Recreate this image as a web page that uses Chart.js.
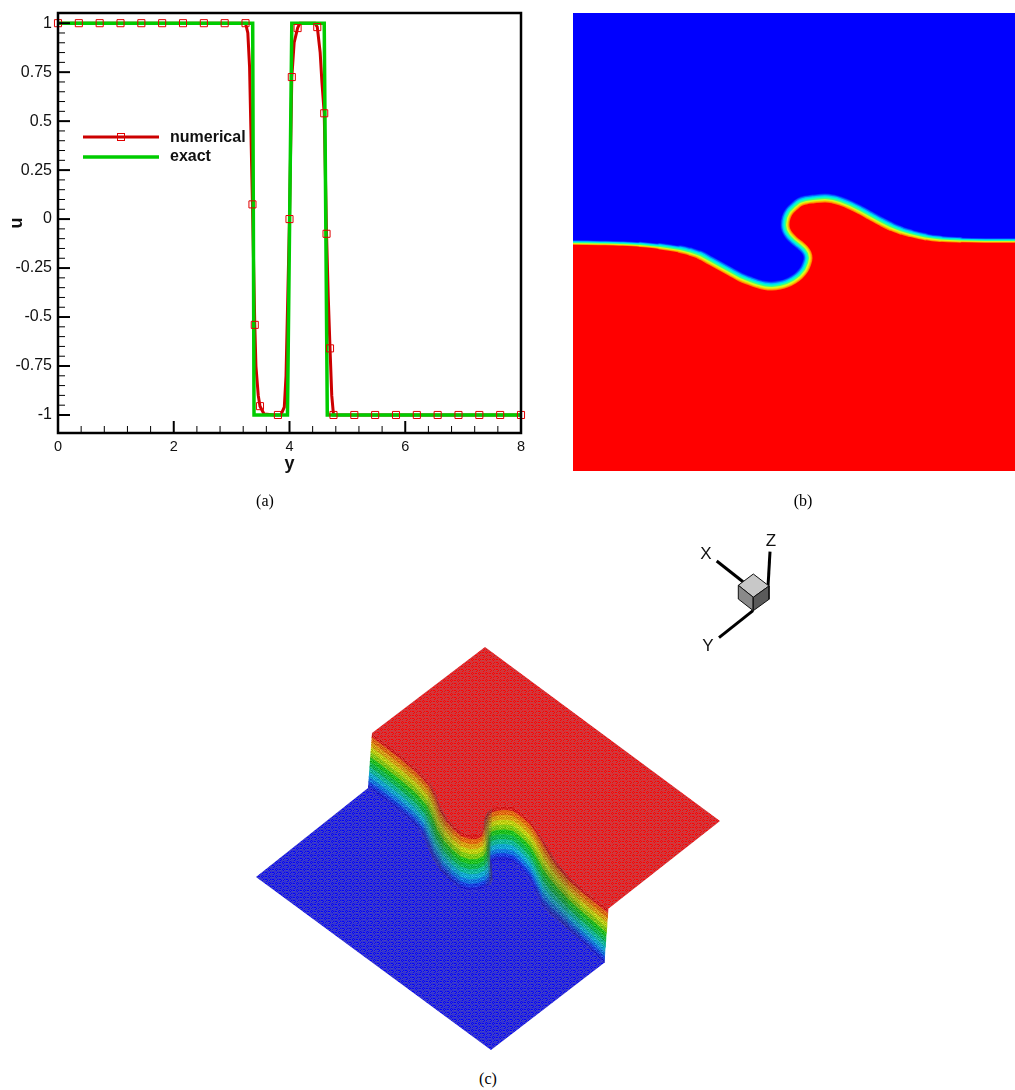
<!DOCTYPE html>
<html><head><meta charset="utf-8">
<style>
html,body{margin:0;padding:0;background:#fff;width:1015px;height:1090px;overflow:hidden}
canvas{position:absolute;display:block}
.t{position:absolute;color:#000;white-space:nowrap;transform:translate(-50%,-50%);line-height:1}
.cap{font:16px "Liberation Serif",serif}
.ax{font:17px "Liberation Sans",sans-serif;color:#111}
</style>
<script src="https://cdn.jsdelivr.net/npm/chart.js@4"></script>
</head><body>
<canvas id="a" width="540" height="480" style="left:0;top:0;width:540px;height:480px"></canvas>
<canvas id="b" width="442" height="458" style="left:573px;top:13px;width:442px;height:458px"></canvas>
<canvas id="c" width="1015" height="560" style="left:0;top:500px;width:1015px;height:560px"></canvas>
<div class="t cap" style="left:265px;top:501px">(a)</div>
<div class="t cap" style="left:803px;top:501px">(b)</div>
<div class="t cap" style="left:488px;top:1079px">(c)</div>
<div class="t ax" style="left:706px;top:554px">X</div>
<div class="t ax" style="left:771px;top:541px">Z</div>
<div class="t ax" style="left:708px;top:646px">Y</div>
<script>
// ---- panel (a) data
const yTicksMajor=[-1,-0.75,-0.5,-0.25,0,0.25,0.5,0.75,1];
const xTicksMajor=[0,2,4,6,8];
const numericalY=[0,1,2,3,3.2,3.24,3.28,3.31,3.36,3.40,3.42,3.46,3.49,3.56,3.75,3.85,3.91,3.94,4.0,4.04,4.08,4.14,4.18,4.44,4.48,4.53,4.56,4.60,4.64,4.67,4.70,4.73,4.76,5,6,7,8];
const numericalU=[1,1,1,1,1,1,0.95,0.777,0.075,-0.54,-0.75,-0.9,-0.955,-0.995,-1,-1,-0.96,-0.8,0,0.725,0.9,0.975,1,1,0.98,0.85,0.7,0.54,-0.075,-0.4,-0.66,-0.9,-1,-1,-1,-1,-1];
const markerY=[0,0.36,0.72,1.08,1.44,1.8,2.16,2.52,2.88,3.24,3.36,3.40,3.49,3.8,4.0,4.04,4.14,4.48,4.60,4.64,4.70,4.76,5.12,5.48,5.84,6.2,6.56,6.92,7.28,7.64,8];
const markerU=[1,1,1,1,1,1,1,1,1,1,0.075,-0.54,-0.955,-1,0,0.725,0.975,0.98,0.54,-0.075,-0.66,-1,-1,-1,-1,-1,-1,-1,-1,-1,-1];
const exactY=[0,3.364,3.387,3.965,4.04,4.60,4.653,8];
const exactU=[1,1,-1,-1,1,1,-1,-1];
const seriesNames=["numerical","exact"];
// ---- panel (b) data: interface contour, in picture coordinates
const ifaceX=[573,600,620,640,660,680,690,700,710,720,730,740,750,757,765,772,780,787,794,800,805,808,809,808,805,800,795,790,787,786,787,790,795,800,806,813,825,833,840,850,860,870,880,890,900,910,925,940,960,985,1015];
const ifaceY=[243,243.5,244,245,247,250,252.5,256,261.5,267,272.5,278,282,284.5,286.5,287,286,284,280.5,276,270,263,258,253,248.5,244,240,235,230,225,218,212,207,203,201,200,199,200,202,206,211,216.5,222,227,231,234,237.5,239.5,240.5,241,241];
const bFrameX=[573,1015,1015,573];
const bFrameY=[13,13,471,471];
const bRedCornerX=[1015,573];
const bRedCornerY=[471,471];
// ---- panel (c) data: surface outline, in picture coordinates
const ridgeX=[372,385,403,418,430,436,440,446,453,461,470,477,482,484,485,488,492,497,505,513,522,530,537,543,550,557,568,580,594,608];
const ridgeY=[733,743,757,770,783,795,807,817,825,832,835,835,832,825,818,812,808.5,807,806,807,813,820,830,840,852,863,876,887,898,909];
const footX=[368,381,399,413,423,428,433,441,451,460,469,478,486,490,492,491,491,497,505,513,521,530,536,542,550,559,568,580,592,604];
const footY=[788,797,811,823,835,847,858,871,881,888,891,890,887,884,880,868,862,860,860,862,869,880,892,905,914,921,929,940,951,963];
const upperCornerX=[485,720];
const upperCornerY=[647,821];
const lowerCornerX=[491,256];
const lowerCornerY=[1050,877];
const wallLevels=[0,0.08,0.17,0.26,0.35,0.44,0.53,0.62,0.71,0.8,0.88,0.95,1];
const wallColors=["#d82020","#e06a10","#d8a010","#c0d010","#80c810","#20c020","#10b850","#10b898","#10a8d0","#1078e0","#1840e0","#2020d0"];
const wallShade=[.05,.05,.08,.1,.22,.3,.3,.2,.1,0,0,0,.15,.45,.5,.3,.05,0,0,0,0,.05,.12,.22,.3,.3,.2,.1,.05];
// ---- axis triad
const triadXx=[716.7,743],triadXy=[561,581.7];
const triadZx=[770,768],triadZy=[551.7,586.7];
const triadYx=[719,753],triadYy=[637.7,610.7];
const cubeTopX=[753.3,769,753.3,738.3],cubeTopY=[574,586,597.3,585.3];
const cubeLeftX=[738.3,753.3,753.3,738.3],cubeLeftY=[585.3,597.3,610.7,599];
const cubeRightX=[753.3,769,769,753.3],cubeRightY=[597.3,586,599.3,610.7];

const pts=(xs,ys)=>xs.map((x,i)=>({x,y:ys[i]}));
const sansFont='"Liberation Sans",Arial,sans-serif';
Chart.defaults.font.family=sansFont;
const base={animation:false,responsive:false,devicePixelRatio:1,events:[]};

// ---------- (a)
const RED="#cc0000",GREEN="#00cc00";
const frameAndTicks={id:'frameAndTicks',
 afterDraw(c){
  const {ctx,chartArea:A,scales:{x,y}}=c;
  ctx.save();ctx.strokeStyle="#000";
  for(let i=-1;i<=1.0001;i+=0.05){const v=Math.round(i*100)/100;const maj=Math.abs(v*4-Math.round(v*4))<1e-6;
    const p=y.getPixelForValue(v);ctx.lineWidth=maj?2:1;ctx.beginPath();ctx.moveTo(A.left,p);ctx.lineTo(A.left+(maj?12:7),p);ctx.stroke();}
  for(let i=0;i<=20;i++){const v=i*0.4;const maj=i%5===0;
    const p=x.getPixelForValue(v);ctx.lineWidth=maj?2:1;ctx.beginPath();ctx.moveTo(p,A.bottom);ctx.lineTo(p,A.bottom-(maj?12:7));ctx.stroke();}
  ctx.lineWidth=2.5;ctx.strokeRect(A.left,A.top,A.right-A.left,A.bottom-A.top);
  // legend
  ctx.lineWidth=3;ctx.strokeStyle=RED;ctx.beginPath();ctx.moveTo(83,137);ctx.lineTo(159,137);ctx.stroke();
  ctx.lineWidth=1;ctx.strokeStyle="#e00000";ctx.strokeRect(117.5,133.5,7,7);
  ctx.lineWidth=3.5;ctx.strokeStyle=GREEN;ctx.beginPath();ctx.moveTo(83,157);ctx.lineTo(159,157);ctx.stroke();
  ctx.fillStyle="#111";ctx.font='bold 16px '+sansFont;ctx.textBaseline='middle';
  ctx.fillText(seriesNames[0],170,138);ctx.fillText(seriesNames[1],170,157);
  ctx.restore();
 }};
const noAxisPadding=s=>{s.paddingTop=0;s.paddingBottom=0;s.paddingLeft=0;s.paddingRight=0;};
new Chart(document.getElementById('a'),{type:'scatter',
 data:{datasets:[
  {data:pts(markerY,markerU),showLine:false,clip:false,pointStyle:'rect',pointRadius:5,pointBorderColor:"#e00000",pointBorderWidth:1,pointBackgroundColor:"rgba(0,0,0,0)"},
  {data:pts(exactY,exactU),showLine:true,borderColor:GREEN,borderWidth:3.5,pointRadius:0,borderJoinStyle:'miter'},
  {data:pts(numericalY,numericalU),showLine:true,borderColor:RED,borderWidth:3,pointRadius:0,tension:0}
 ]},
 options:{...base,layout:{padding:{top:13,right:19,left:0,bottom:0}},
  plugins:{legend:{display:false},tooltip:{enabled:false}},
  scales:{
   x:{type:'linear',min:0,max:8,grid:{display:false,drawTicks:false},border:{display:false},
     afterBuildTicks:s=>{s.ticks=xTicksMajor.map(value=>({value}))},afterFit:s=>{s.height=47;noAxisPadding(s);},
     ticks:{color:"#111",font:{size:14.5},padding:5,maxRotation:0,callback:v=>String(v)},
     title:{display:true,text:"y",color:"#111",font:{size:18,weight:'bold'},padding:{top:0,bottom:5}}},
   y:{type:'linear',min:-1.092,max:1.052,grid:{display:false,drawTicks:false},border:{display:false},
     afterBuildTicks:s=>{s.ticks=yTicksMajor.map(value=>({value}))},afterFit:s=>{s.width=58;noAxisPadding(s);},
     ticks:{color:"#111",font:{size:16},padding:6,callback:v=>String(v)},
     title:{display:true,text:"u",color:"#111",font:{size:18,weight:'bold'},padding:{top:6,bottom:0}}}
  }},
 plugins:[frameAndTicks]});

// ---------- (b)
const blendByDataset={id:'blendByDataset',
 beforeDatasetsDraw(c){const d=c.data.datasets;c.ctx.globalCompositeOperation=d[d.length-1].comp;},
 afterDatasetDraw(c,args){const n=c.data.datasets[args.index-1];c.ctx.globalCompositeOperation=n?n.comp:'source-over';}};
const clamp01=v=>Math.max(0,Math.min(1,v));
const edgeScale=x=>0.5+0.5*clamp01((x-630)/70)*clamp01((960-x)/80);
const band=(color,w,comp)=>({data:pts(ifaceX,ifaceY),showLine:true,fill:false,tension:0.4,borderColor:color,borderWidth:w,pointRadius:0,comp,
   borderJoinStyle:'round',borderCapStyle:'round',segment:{borderWidth:ctx=>w*edgeScale(ctx.p0.parsed.x)}});
const bLayers=[
 {data:pts(ifaceX.concat(bRedCornerX),ifaceY.concat(bRedCornerY)),showLine:true,fill:'shape',tension:0,backgroundColor:"#ff0000",borderWidth:0,pointRadius:0,comp:'source-over'},
 band("#ff8000",7,'source-atop'),band("#ffc000",5,'source-atop'),band("#d0ff20",3,'source-atop'),
 band("#40ff80",2.5,'destination-over'),band("#00ffd0",5,'destination-over'),band("#00c8ff",7.5,'destination-over'),band("#0070ff",9.5,'destination-over'),band("#0030ff",11,'destination-over'),
 {data:pts(bFrameX,bFrameY),showLine:true,fill:'shape',backgroundColor:"#0000ff",borderWidth:0,pointRadius:0,comp:'destination-over'}
];
new Chart(document.getElementById('b'),{type:'scatter',data:{datasets:bLayers.slice().reverse()},
 options:{...base,layout:{padding:0},plugins:{legend:{display:false},tooltip:{enabled:false}},
  scales:{x:{type:'linear',min:573,max:1015,display:false},y:{type:'linear',min:13,max:471,reverse:true,display:false}}},
 plugins:[blendByDataset]});

// ---------- (c)
function meshPattern(hi,lo,flat){
 const n=7,t=document.createElement('canvas');t.width=t.height=n;const g=t.getContext('2d');
 for(let y=0;y<n;y++)for(let x=0;x<n;x++){
  const u=((x+y)%n)<3.5,v=((x-y+n)%n)<3.5;
  g.fillStyle=(u!==v)?((x+y)%2?hi:lo):flat;g.fillRect(x,y,1,1);}
 return g.createPattern(t,'repeat');
}
function rgbOf(h){return [1,3,5].map(i=>parseInt(h.substr(i,2),16));}
function mix(h,k,to){const c=rgbOf(h),d=to||[70,70,70];return c.map((v,i)=>Math.round(v*(1-k)+d[i]*k));}
const css=a=>`rgb(${a[0]},${a[1]},${a[2]})`;
const wallFill=(h,k)=>{const c=mix(h,k),up=c.map(v=>Math.min(255,v+28)),dn=c.map(v=>Math.max(0,v-28));return meshPattern(css(up),css(dn),css(c));};
const poly=(xs,ys,bg)=>({data:pts(xs,ys),showLine:true,fill:'shape',backgroundColor:bg,borderWidth:0,pointRadius:0});
const seg=(x0,y0,x1,y1,w)=>({data:pts([x0,x1],[y0,y1]),showLine:true,fill:false,borderColor:"#000",borderWidth:w,pointRadius:0});
const painter=[];
painter.push(poly(footX.concat(lowerCornerX),footY.concat(lowerCornerY),meshPattern("#0000ff","#4646be","#3232d2")));
painter.push(poly(upperCornerX.concat(ridgeX.slice().reverse()),upperCornerY.concat(ridgeY.slice().reverse()),meshPattern("#ff0000","#be4646","#d83238")));
const lerp=(a,b,t)=>a+(b-a)*t;
for(let i=0;i<ridgeX.length-1;i++){
 for(let r=0;r<wallColors.length;r++){
  const t0=wallLevels[r],t1=wallLevels[r+1];
  const xs=[lerp(ridgeX[i],footX[i],t0),lerp(ridgeX[i+1],footX[i+1],t0),lerp(ridgeX[i+1],footX[i+1],t1),lerp(ridgeX[i],footX[i],t1)];
  const ys=[lerp(ridgeY[i],footY[i],t0),lerp(ridgeY[i+1],footY[i+1],t0),lerp(ridgeY[i+1],footY[i+1],t1),lerp(ridgeY[i],footY[i],t1)];
  const d=poly(xs,ys,wallFill(wallColors[r],wallShade[i]));d.borderWidth=0.7;d.borderColor=css(mix(wallColors[r],wallShade[i]));painter.push(d);
 }
}
painter.push(seg(triadXx[0],triadXy[0],triadXx[1],triadXy[1],3));
painter.push(seg(triadZx[0],triadZy[0],triadZx[1],triadZy[1],3));
painter.push(seg(triadYx[0],triadYy[0],triadYx[1],triadYy[1],3));
[[cubeTopX,cubeTopY,"#c8c8c8"],[cubeLeftX,cubeLeftY,"#8a8a8a"],[cubeRightX,cubeRightY,"#5a5a5a"]].forEach(f=>{
 const d=poly(f[0].concat(f[0][0]),f[1].concat(f[1][0]),f[2]);d.borderWidth=1;d.borderColor="#111";painter.push(d);});
new Chart(document.getElementById('c'),{type:'scatter',data:{datasets:painter.reverse()},
 options:{...base,layout:{padding:0},plugins:{legend:{display:false},tooltip:{enabled:false}},
  scales:{x:{type:'linear',min:0,max:1015,display:false},y:{type:'linear',min:500,max:1060,reverse:true,display:false}}}});
</script>
</body></html>
